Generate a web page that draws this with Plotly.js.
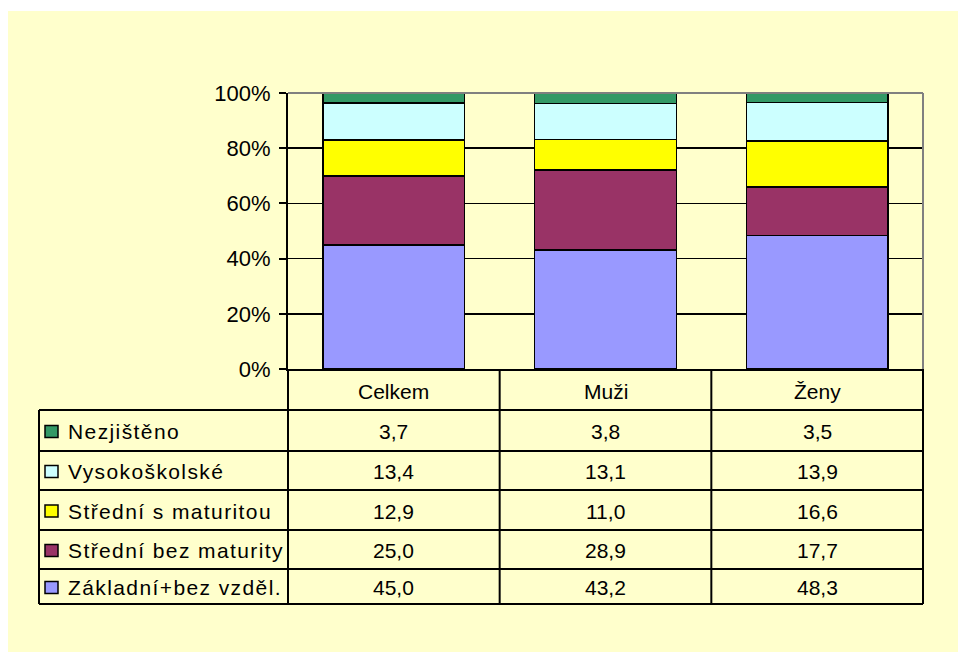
<!DOCTYPE html>
<html><head><meta charset="utf-8">
<script src="https://cdn.plot.ly/plotly-3.0.1.min.js"></script>
<style>
body{margin:0;background:#ffffff;}
#chart{position:absolute;left:8px;top:11px;width:950px;height:641px;}
</style>
</head><body><div id="chart"></div>
<script>
// ---- data ----
const categories = ['Celkem', 'Muži', 'Ženy'];
const seriesNames = ['Základní+bez vzděl.', 'Střední bez maturity', 'Střední s maturitou', 'Vysokoškolské', 'Nezjištěno'];
const zakladni = [45.0, 43.2, 48.3];
const stredniBez = [25.0, 28.9, 17.7];
const stredniS = [12.9, 11.0, 16.6];
const vysokoskolske = [13.4, 13.1, 13.9];
const nezjisteno = [3.7, 3.8, 3.5];
const yTickVals = [0, 20, 40, 60, 80, 100];
const yTickText = ['0%', '20%', '40%', '60%', '80%', '100%'];
const seriesColors = ['#9999FF', '#993366', '#FFFF00', '#CCFFFF', '#339966'];

const seriesValues = [zakladni, stredniBez, stredniS, vysokoskolske, nezjisteno];

// ---- geometry (pixels inside the plot div) ----
const W = 950, H = 641;
const M = {l: 280, r: 35, t: 82, b: 283};
const pw = W - M.l - M.r, ph = H - M.t - M.b;
const px2x = x => (x - M.l) / pw;
const py2y = y => (H - M.b - y) / ph;
const FONT = '"Liberation Sans", Arial, sans-serif';
const FS = 21;

const traces = seriesValues.map((vals, i) => ({
  type: 'bar', name: seriesNames[i], x: categories, y: vals,
  marker: {color: seriesColors[i], line: {color: '#000000', width: 1.5}},
  hoverinfo: 'skip'
}));

const shapes = [];
const annotations = [];
const nCat = categories.length;
const catX = i => i / nCat;
const catMid = i => (i + 0.5) / nCat;

const headerTop = H - M.b;
const rowLines = [399, 440, 479, 519, 558, 593];
const tableLeft = 31;
const lineStyle = {color: '#000000', width: 2};

shapes.push({type: 'line', xref: 'paper', yref: 'paper', x0: 0, x1: 1, y0: 1, y1: 1, line: {color: '#808080', width: 2}, layer: 'above'});
shapes.push({type: 'line', xref: 'paper', yref: 'paper', x0: 1, x1: 1, y0: 0, y1: 1, line: {color: '#808080', width: 2}, layer: 'above'});

for (let i = 0; i <= nCat; i++) {
  shapes.push({type: 'line', xref: 'paper', yref: 'paper', x0: catX(i), x1: catX(i),
    y0: py2y(headerTop), y1: py2y(rowLines[rowLines.length - 1]), line: lineStyle});
}
shapes.push({type: 'line', xref: 'paper', yref: 'paper', x0: px2x(tableLeft), x1: px2x(tableLeft),
  y0: py2y(rowLines[0]), y1: py2y(rowLines[rowLines.length - 1]), line: lineStyle});
rowLines.forEach(y => {
  shapes.push({type: 'line', xref: 'paper', yref: 'paper', x0: px2x(tableLeft), x1: 1,
    y0: py2y(y), y1: py2y(y), line: lineStyle});
});

categories.forEach((c, i) => {
  annotations.push({xref: 'paper', yref: 'paper', x: catMid(i), y: py2y((headerTop + rowLines[0]) / 2 + 2),
    text: c, showarrow: false, xanchor: 'center', yanchor: 'middle', font: {family: FONT, size: FS, color: '#000'}});
});

const fmt = v => v.toFixed(1).replace('.', ',');
for (let r = 0; r < seriesNames.length; r++) {
  const s = seriesNames.length - 1 - r;
  const yMid = (rowLines[r] + rowLines[r + 1]) / 2 + 1;
  shapes.push({type: 'rect', xref: 'paper', yref: 'paper', x0: px2x(37), x1: px2x(50),
    y0: py2y(yMid - 6), y1: py2y(yMid + 6), fillcolor: seriesColors[s], line: {color: '#000', width: 1.5}});
  annotations.push({xref: 'paper', yref: 'paper', x: px2x(58), y: py2y(yMid),
    text: seriesNames[s], showarrow: false, xanchor: 'left', yanchor: 'middle', font: {family: FONT, size: FS, color: '#000'}});
  seriesValues[s].forEach((v, i) => {
    annotations.push({xref: 'paper', yref: 'paper', x: catMid(i), y: py2y(yMid),
      text: fmt(v), showarrow: false, xanchor: 'center', yanchor: 'middle', font: {family: FONT, size: FS, color: '#000'}});
  });
}

const layout = {
  width: W, height: H, margin: M,
  paper_bgcolor: '#FFFFCC', plot_bgcolor: '#FFFFCC',
  barmode: 'stack', bargap: 0.33, showlegend: false,
  font: {family: FONT, size: FS, color: '#000'},
  xaxis: {type: 'category', range: [-0.5, nCat - 0.5], showticklabels: false, showgrid: false,
    zeroline: false, showline: true, linecolor: '#000', linewidth: 2, ticks: ''},
  yaxis: {range: [0, 100], tickmode: 'array', tickvals: yTickVals, ticktext: yTickText, showgrid: true, gridcolor: '#000', gridwidth: 1.5,
    zeroline: false, showline: true, linecolor: '#000', linewidth: 2, ticks: 'outside', ticklen: 7,
    tickwidth: 2, tickcolor: '#000', ticklabelstandoff: 4, tickfont: {family: FONT, size: 22, color: '#000'}},
  shapes: shapes, annotations: annotations
};

Plotly.newPlot('chart', traces, layout, {displayModeBar: false, staticPlot: true}).then(gd => {
  const names = new Set(seriesNames);
  gd.querySelectorAll('.annotation-text').forEach(t => {
    if (names.has(t.textContent)) {
      const bb = t.getBBox();
      t.setAttribute('text-anchor', 'start');
      t.setAttribute('x', bb.x);
      t.style.letterSpacing = '1.4px';
    }
  });
});
</script>
</body></html>
